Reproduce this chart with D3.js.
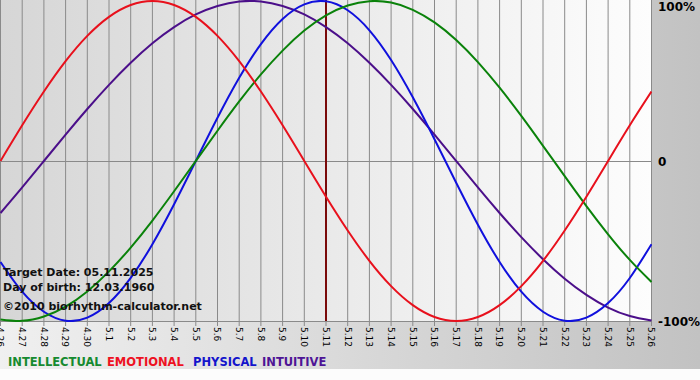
<!DOCTYPE html>
<html><head><meta charset="utf-8">
<script src="https://cdn.jsdelivr.net/npm/d3@7"></script>
<style>html,body{margin:0;padding:0;background:#fff;}svg{display:block;}</style>
</head><body>
<script>
const dayLabels = ["4.26","4.27","4.28","4.29","4.30","5.1","5.2","5.3","5.4","5.5","5.6","5.7","5.8","5.9","5.10","5.11","5.12","5.13","5.14","5.15","5.16","5.17","5.18","5.19","5.20","5.21","5.22","5.23","5.24","5.25","5.26"];
const intellectual = [-0.990,-0.999,-0.972,-0.910,-0.815,-0.690,-0.541,-0.372,-0.189,0,0.189,0.372,0.541,0.690,0.815,0.910,0.972,0.999,0.990,0.945,0.866,0.756,0.618,0.458,0.282,0.095,-0.095,-0.282,-0.458,-0.618,-0.756];
const emotional = [0,0.223,0.434,0.624,0.782,0.901,0.975,1,0.975,0.901,0.782,0.624,0.434,0.223,0,-0.223,-0.434,-0.624,-0.782,-0.901,-0.975,-1,-0.975,-0.901,-0.782,-0.624,-0.434,-0.223,0,0.223,0.434];
const physical = [-0.631,-0.817,-0.942,-0.998,-0.979,-0.888,-0.731,-0.520,-0.270,0,0.270,0.520,0.731,0.888,0.979,0.998,0.942,0.817,0.631,0.398,0.136,-0.136,-0.398,-0.631,-0.817,-0.942,-0.998,-0.979,-0.888,-0.731,-0.520];
const intuitive = [-0.325,-0.165,0,0.165,0.325,0.476,0.614,0.736,0.837,0.916,0.969,0.997,0.997,0.969,0.916,0.837,0.736,0.614,0.476,0.325,0.165,0,-0.165,-0.325,-0.476,-0.614,-0.736,-0.837,-0.916,-0.969,-0.997];
const yTicks = [1, 0, -1];
const yTickLabels = ["100%", "0", "-100%"];
const seriesNames = ["INTELLECTUAL","EMOTIONAL","PHYSICAL","INTUITIVE"];
const targetLabel = "5.11";
const infoLines = ["Target Date: 05.11.2025","Day of birth: 12.03.1960","©2010 biorhythm-calculator.net"];

const W = 700, H = 380;
const svg = d3.select("body").append("svg").attr("width", W).attr("height", H);
const defs = svg.append("defs");
const gOut = defs.append("linearGradient").attr("id","gout").attr("x1","0").attr("x2","1").attr("y1","0").attr("y2","0");
gOut.append("stop").attr("offset","0").attr("stop-color","#f0f0f0");
gOut.append("stop").attr("offset","1").attr("stop-color","#c2c2c2");
const gIn = defs.append("linearGradient").attr("id","gin").attr("x1","0").attr("x2","1").attr("y1","0").attr("y2","0");
gIn.append("stop").attr("offset","0").attr("stop-color","#d6d6d6");
gIn.append("stop").attr("offset","1").attr("stop-color","#fdfdfd");
defs.append("clipPath").attr("id","clip").append("rect").attr("x",0).attr("y",0).attr("width",652).attr("height",322);

const x = d3.scalePoint().domain(dayLabels).range([0.5, 651.5]);
const y = d3.scaleLinear().domain([-1, 1]).range([321, 1]);

svg.append("rect").attr("x",0).attr("y",0).attr("width",W).attr("height",369).attr("fill","url(#gout)");
svg.append("rect").attr("x",0).attr("y",369).attr("width",W).attr("height",H-369).attr("fill","#fcfcfc");
svg.append("rect").attr("x",0).attr("y",0).attr("width",651).attr("height",321).attr("fill","url(#gin)");

// vertical grid lines + ticks
svg.append("g").selectAll("line").data(dayLabels).join("line")
  .attr("x1", d => x(d)).attr("x2", d => x(d))
  .attr("y1", 0).attr("y2", 326)
  .attr("stroke", "#8a8a8a").attr("stroke-width", 1);
// horizontal lines
svg.append("g").selectAll("line").data(yTicks).join("line")
  .attr("x1", 0).attr("x2", 652)
  .attr("y1", d => Math.round(y(d)) + 0.5).attr("y2", d => Math.round(y(d)) + 0.5)
  .attr("stroke", "#8a8a8a").attr("stroke-width", 1)
  .attr("opacity", d => d === 1 ? 0 : 1);

// x labels
svg.append("g").selectAll("text").data(dayLabels).join("text")
  .attr("transform", d => `translate(${x(d)},327) rotate(90)`)
  .attr("dy", "0.35em")
  .attr("font-family", "DejaVu Sans, Verdana, sans-serif")
  .attr("font-size", 9).attr("fill", "#000")
  .text(d => d);

// y labels
svg.append("g").selectAll("text").data(yTicks).join("text")
  .attr("x", 658).attr("y", d => Math.max(y(d), 6) + 5)
  .attr("font-family", "DejaVu Sans, Verdana, sans-serif")
  .attr("font-weight", "bold").attr("font-size", 12).attr("fill", "#000")
  .text((d, i) => yTickLabels[i]);

// target line
svg.append("line")
  .attr("x1", x(targetLabel)).attr("x2", x(targetLabel))
  .attr("y1", 0).attr("y2", 321)
  .attr("stroke", "#7a0a0a").attr("stroke-width", 2);

const series = [
  {name: seriesNames[3], vals: intuitive, color: "#4b0f8a"},
  {name: seriesNames[2], vals: physical, color: "#1010dd"},
  {name: seriesNames[0], vals: intellectual, color: "#0a820a"},
  {name: seriesNames[1], vals: emotional, color: "#e8101c"}
];
const line = d3.line().x((d, i) => x(dayLabels[i])).y(d => y(d)).curve(d3.curveNatural);
const gl = svg.append("g").attr("clip-path", "url(#clip)");
gl.selectAll("path").data(series).join("path")
  .attr("d", s => line(s.vals))
  .attr("fill", "none").attr("stroke", s => s.color).attr("stroke-width", 2);

// info text
const infoY = [276, 291, 310];
svg.append("g").selectAll("text").data(infoLines).join("text")
  .attr("x", 3).attr("y", (d, i) => infoY[i])
  .attr("font-family", "DejaVu Sans, Verdana, sans-serif")
  .attr("font-weight", "bold").attr("font-size", 11).attr("fill", "#111")
  .text(d => d);

// legend
const legendColors = ["#168a30","#ee1122","#1414cc","#4e1496"];
const legendX = [8, 107, 193, 262];
svg.append("g").selectAll("text").data(seriesNames).join("text")
  .attr("x", (d, i) => legendX[i]).attr("y", 366)
  .attr("font-family", "DejaVu Sans, Verdana, sans-serif")
  .attr("font-weight", "bold").attr("font-size", 11.5)
  .attr("fill", (d, i) => legendColors[i])
  .text(d => d);
</script>
</body></html>
